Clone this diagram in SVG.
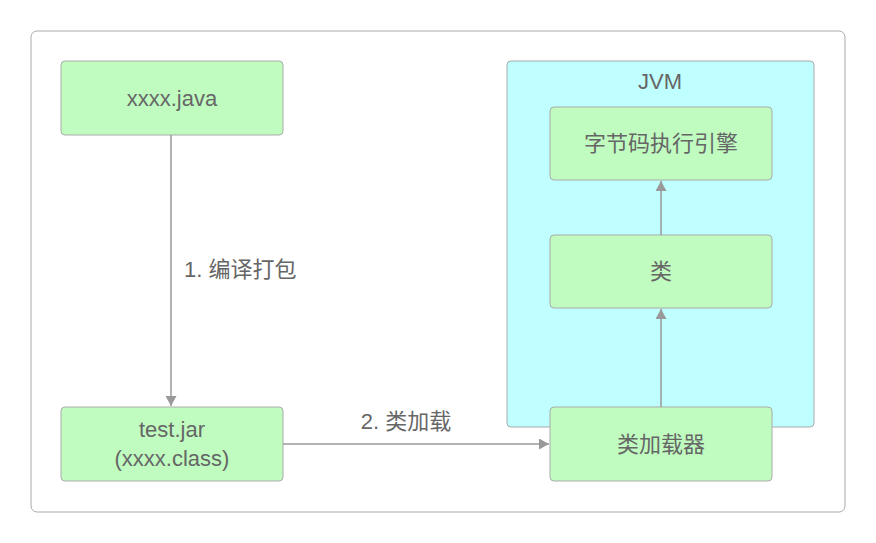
<svg xmlns="http://www.w3.org/2000/svg" width="876" height="543" viewBox="0 0 876 543">
<style>
.node rect{fill:#c0fcc0;stroke:#aaaaaa;stroke-width:1}
text{font-family:"Liberation Sans","Noto Sans CJK SC",sans-serif;font-size:22px;fill:#666666;text-anchor:middle}
.edge{stroke:#999999;stroke-width:1.5;fill:none}
.lbl{text-anchor:start}
</style>
<defs>
<marker id="arr" viewBox="0 0 10 11" refX="10" refY="5.5" markerWidth="10" markerHeight="11" markerUnits="userSpaceOnUse" orient="auto">
<path d="M0,0 L10,5.5 L0,11 z" fill="#999999"/>
</marker>
</defs>
<rect x="0" y="0" width="876" height="543" fill="#ffffff"/>
<rect x="31" y="31" width="814" height="481" rx="6" fill="#ffffff" stroke="#aaaaaa" stroke-width="1"/>
<g id="jvm">
<rect x="507" y="61" width="307" height="366" rx="4" fill="#bfffff" stroke="#aaaaaa" stroke-width="1"/>
<text x="660" y="89">JVM</text>
</g>
<g id="java" class="node">
<rect x="61" y="61" width="222" height="74" rx="4"/>
<text x="172" y="106">xxxx.java</text>
</g>
<g id="jar" class="node">
<rect x="61" y="407" width="222" height="74" rx="4"/>
<text x="172" y="437">test.jar</text>
<text x="172" y="466">(xxxx.class)</text>
</g>
<g id="engine" class="node">
<rect x="550" y="107" width="222" height="73" rx="4"/>
<text x="661" y="151">字节码执行引擎</text>
</g>
<g id="cls" class="node">
<rect x="550" y="235" width="222" height="73" rx="4"/>
<text x="661" y="279">类</text>
</g>
<g id="loader" class="node">
<rect x="550" y="407" width="222" height="74" rx="4"/>
<text x="661" y="452">类加载器</text>
</g>
<g id="connectors">
<path class="edge" d="M171,135 L171,406" marker-end="url(#arr)"/>
<text class="lbl" x="184" y="277">1. 编译打包</text>
<path class="edge" d="M283,444 L549,444" marker-end="url(#arr)"/>
<text x="406" y="429">2. 类加载</text>
<path class="edge" d="M661,407 L661,309" marker-end="url(#arr)"/>
<path class="edge" d="M661,235 L661,181" marker-end="url(#arr)"/>
</g>
</svg>
